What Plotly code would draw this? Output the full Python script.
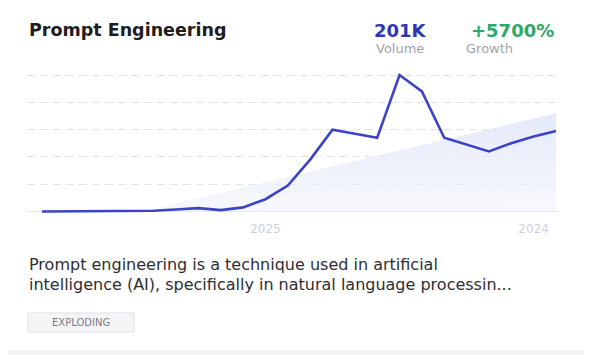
import plotly.graph_objects as go

# ---- data ----
months = list(range(24))
interest = [0, 0, 0, 0, 0, 0.5, 1.5, 2.5, 1, 3, 9, 19, 38, 60, 57, 54, 100, 88, 54, 49, 44, 50, 55, 59]
trend_x = [4.5, 23]
trend_y = [0, 72]
tick_pos = [10, 22]
tick_labels = ["2025", "2024"]
title_text = "Prompt Engineering"
volume_text = "201K"
growth_text = "+5700%"
desc_lines = ["Prompt engineering is a technique used in artificial",
              "intelligence (AI), specifically in natural language processin..."]
badge_text = "EXPLODING"

# page body has an 8px margin: work in reference-pixel coordinates, shift by OFF
OFF = 8
W, H = 592, 355
PL, PR, PT, PB = 27, 560, 72, 213      # plot box in reference pixels
ML, MR, MT, MB = PL - OFF, W - (PR - OFF), PT - OFF, H - (PB - OFF)
PW, PH = W - ML - MR, H - MT - MB


def px(x):
    return (x - PL) / PW


def py(y):
    return (PB - y) / PH


fig = go.Figure()
fig.add_trace(go.Scatter(
    x=trend_x, y=trend_y, mode="lines", line=dict(width=0, color="rgba(0,0,0,0)"),
    fill="tozeroy",
    fillgradient=dict(type="vertical",
                      colorscale=[[0, "rgba(238,241,251,0.5)"], [1, "rgba(228,233,249,1)"]]),
    hoverinfo="skip", showlegend=False))
fig.add_trace(go.Scatter(
    x=months, y=interest, mode="lines",
    line=dict(color="#3b44c6", width=2.6), showlegend=False))

fig.update_xaxes(range=[-0.67, 23.18], showgrid=False, zeroline=False, showline=False,
                 tickvals=tick_pos, ticktext=tick_labels, ticks="", ticklabelstandoff=7,
                 tickfont=dict(family="DejaVu Sans", size=12, color="#cdd0da"))
fig.update_yaxes(range=[-1.1, 102.2], showgrid=True, gridcolor="#e3e5eb", griddash="8px,5px",
                 gridwidth=1, tickvals=[20, 40, 60, 80, 100], showticklabels=False,
                 zeroline=False, showline=False)

shapes = [
    dict(type="rect", xref="paper", yref="paper", x0=px(-20), x1=px(588), y0=py(350), y1=py(-20),
         fillcolor="white", line=dict(width=0), layer="below"),
    dict(type="line", xref="paper", yref="y", x0=0, x1=1, y0=0, y1=0,
         line=dict(color="#e6e9f3", width=1.2), layer="below"),
    dict(type="rect", xref="paper", yref="paper", x0=px(28), x1=px(134), y0=py(332), y1=py(313),
         fillcolor="#f5f5f7", line=dict(color="#dedfe3", width=1)),
]

anns = []


def ann(text, x, y, size, color, bold=False, family="DejaVu Sans", xanchor="left"):
    anns.append(dict(text=("<b>%s</b>" % text) if bold else text, x=px(x), y=py(y),
                     xref="paper", yref="paper", xanchor=xanchor, yanchor="middle",
                     showarrow=False, font=dict(family=family, size=size, color=color)))


ann(title_text, 27, 30, 17.5, "#1d1d22", bold=True)
ann(volume_text, 400, 30, 18, "#3036b2", bold=True, xanchor="center")
ann(growth_text, 512, 30, 18, "#2ea866", bold=True, xanchor="center")
ann("Volume", 400, 48, 13, "#a0a3ad", xanchor="center")
ann("Growth", 489, 48, 13, "#a0a3ad", xanchor="center")
ann(desc_lines[0], 27, 264, 16, "#2e2e33")
ann(desc_lines[1], 27, 284, 16, "#2e2e33")
ann(badge_text, 81, 322.5, 10, "#7a7c84", xanchor="center")

fig.update_layout(width=W, height=H, margin=dict(l=ML, r=MR, t=MT, b=MB),
                  paper_bgcolor="#f1f3f8", plot_bgcolor="rgba(0,0,0,0)",
                  shapes=shapes, annotations=anns, hovermode=False)
fig.write_html("out.html")
